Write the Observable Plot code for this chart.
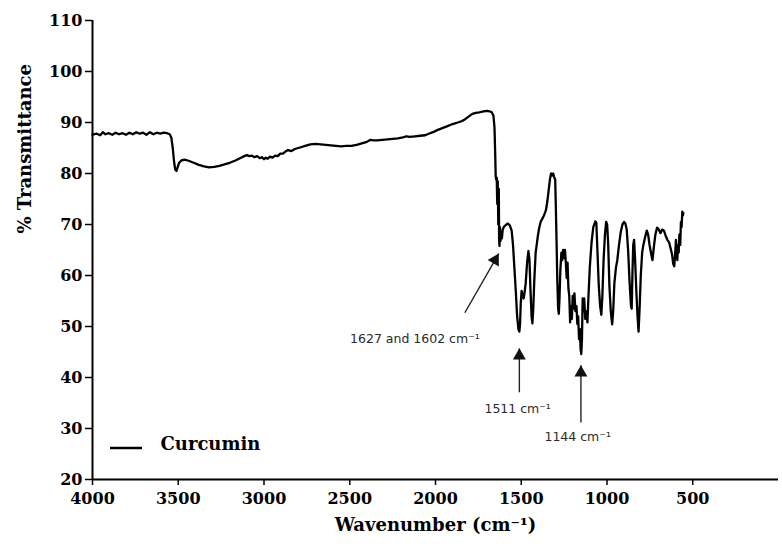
<!DOCTYPE html>
<html><head><meta charset="utf-8">
<script src="https://cdn.jsdelivr.net/npm/d3@7"></script>
<script src="https://cdn.jsdelivr.net/npm/@observablehq/plot@0.6"></script>
<style>body{margin:0;background:#fff}#chart{width:782px;height:555px}</style>
</head><body><div id="chart"></div>
<script>
const wavenumber = [4000,3975,3955,3940,3925,3905,3885,3865,3845,3825,3805,3785,3765,3745,3725,3705,3685,3665,3645,3625,3605,3585,3565,3550,3540,3532,3525,3518,3510,3503,3495,3480,3460,3440,3410,3380,3350,3320,3290,3260,3230,3200,3170,3140,3115,3100,3085,3070,3055,3040,3025,3012,3000,2990,2978,2965,2950,2935,2920,2905,2890,2875,2860,2840,2820,2790,2760,2730,2700,2670,2640,2610,2580,2550,2520,2490,2460,2430,2400,2380,2360,2340,2310,2280,2250,2220,2190,2170,2150,2120,2090,2060,2040,2015,1990,1960,1930,1900,1870,1845,1825,1805,1785,1765,1745,1720,1700,1685,1672,1662,1656,1652,1649,1646,1643,1640,1637,1634,1631,1629,1627,1624,1621,1617,1613,1608,1600,1590,1578,1566,1556,1548,1540,1532,1524,1516,1511,1507,1503,1498,1492,1486,1480,1474,1466,1458,1452,1446,1440,1435,1430,1424,1416,1410,1403,1395,1386,1376,1366,1356,1348,1340,1332,1326,1320,1314,1308,1302,1298,1294,1290,1285,1281,1277,1272,1266,1261,1256,1250,1245,1240,1235,1230,1225,1220,1215,1210,1205,1200,1195,1190,1184,1178,1173,1168,1163,1158,1154,1150,1146,1142,1138,1133,1127,1121,1114,1108,1100,1090,1080,1068,1062,1056,1048,1040,1033,1027,1020,1012,1005,999,993,986,978,970,964,957,948,940,930,920,910,900,893,885,877,868,860,856,852,847,842,836,829,822,816,810,803,795,788,778,768,760,752,744,735,727,718,708,698,688,678,668,658,648,638,628,620,614,608,603,598,594,590,586,582,578,573,569,565,561,557,555];
const transmittance = [87.6,87.8,87.5,88.1,87.7,87.9,87.6,88.0,87.7,87.9,87.6,88.0,87.7,88.1,87.8,88.0,87.6,88.1,87.7,88.0,87.8,88.0,87.9,87.7,87.0,85.0,82.5,80.8,80.5,81.3,82.1,82.6,82.7,82.5,82.1,81.7,81.4,81.2,81.3,81.5,81.8,82.1,82.5,83.0,83.4,83.6,83.4,83.5,83.2,83.4,83.0,83.2,82.8,83.1,82.9,83.3,83.1,83.5,83.4,83.9,83.9,84.3,84.6,84.4,84.8,85.1,85.4,85.7,85.8,85.7,85.6,85.5,85.4,85.3,85.4,85.4,85.6,85.9,86.2,86.6,86.5,86.5,86.6,86.7,86.8,86.9,87.1,87.3,87.2,87.3,87.4,87.5,87.8,88.1,88.5,88.9,89.3,89.7,90.0,90.3,90.7,91.2,91.7,91.9,92.0,92.2,92.3,92.2,92.0,91.3,89.0,84.0,79.5,78.8,79.2,74.0,78.5,70.0,77.0,67.0,65.8,69.5,66.8,68.5,67.3,69.0,69.6,69.9,70.2,69.8,68.8,66.0,61.5,57.0,52.0,49.4,49.0,50.5,54.5,57.0,56.2,55.5,56.8,58.5,62.5,64.8,63.0,57.0,52.0,50.6,53.5,59.0,64.5,66.0,67.8,69.4,70.6,71.2,71.9,72.8,74.5,76.8,79.0,80.0,79.6,80.0,79.3,78.8,73.0,66.5,59.5,53.5,52.5,55.5,61.0,64.5,63.0,65.0,63.4,65.0,62.5,59.5,62.5,57.5,56.0,50.8,54.0,51.5,56.0,53.5,56.5,53.0,54.0,50.5,52.0,47.5,49.5,45.5,44.6,47.5,55.5,53.0,55.5,51.5,53.0,50.8,56.0,61.8,66.5,69.5,70.6,70.3,65.0,58.0,54.0,52.3,56.0,63.0,68.0,70.5,70.0,66.0,58.0,53.0,50.4,53.0,58.5,61.5,63.0,66.0,68.5,70.0,70.5,70.2,69.0,65.0,58.5,54.0,53.5,60.0,66.0,67.0,63.0,57.0,52.0,49.0,53.5,60.0,64.5,66.0,67.5,68.8,68.0,66.0,64.5,63.0,65.5,68.0,69.4,69.0,68.3,69.0,68.8,67.8,67.0,66.5,65.2,64.0,62.3,61.8,64.0,67.0,65.0,63.0,66.0,64.5,68.0,66.0,70.5,69.5,72.5,71.8,72.3];
const xTicks = [4000,3500,3000,2500,2000,1500,1000,500];
const yTicks = [20,30,40,50,60,70,80,90,100,110];
const seriesName = "Curcumin";
const xLabel = "Wavenumber (cm⁻¹)";
const yLabel = "% Transmittance";
const annotationText = ["1627 and 1602 cm⁻¹", "1511 cm⁻¹", "1144 cm⁻¹"];
const annotationTextWn = [2120, 1521, 1171];
const annotationTextT = [47.6, 33.9, 28.4];
const arrowTailWn = [1829, 1511, 1152];
const arrowTailT = [52.7, 37.1, 31.2];
const arrowTipWn = [1631, 1511, 1152];
const arrowTipT = [64.3, 45.7, 42.4];

const W = 782, H = 555, ML = 92, MR = 4, MT = 20, MB = 76;
const xs = d3.scaleLinear([4000, 0], [ML, W - MR]);
const ys = d3.scaleLinear([20, 110], [H - MB, MT]);

const spectrum = wavenumber.map((w, i) => ({w, t: transmittance[i]}));
const annotations = annotationText.map((label, i) => {
  const x1 = xs(arrowTailWn[i]), y1 = ys(arrowTailT[i]);
  const x2 = xs(arrowTipWn[i]), y2 = ys(arrowTipT[i]);
  const L = Math.hypot(x2 - x1, y2 - y1), ux = (x2 - x1) / L, uy = (y2 - y1) / L;
  return {
    label, wn: annotationTextWn[i], t: annotationTextT[i],
    tailWn: arrowTailWn[i], tailT: arrowTailT[i],
    tipWn: arrowTipWn[i], tipT: arrowTipT[i],
    headWn: xs.invert(x2 - 7.4 * ux), headT: ys.invert(y2 - 7.4 * uy),
    angle: Math.atan2(ux, -uy) * 180 / Math.PI
  };
});

const serif = "'DejaVu Serif', serif";
const plot = Plot.plot({
  width: W, height: H,
  marginLeft: ML, marginRight: MR, marginTop: MT, marginBottom: MB,
  style: {background: "#fff", color: "#000", fontFamily: serif, fontWeight: "bold", fontSize: "16px"},
  x: {domain: [4000, 0]},
  y: {domain: [20, 110]},
  marks: [
    Plot.axisX({ticks: xTicks, tickFormat: d => String(d), tickSize: 6, tickPadding: 7, label: null, fontSize: 16, fontWeight: "bold", fontFamily: serif, strokeWidth: 1.5}),
    Plot.axisY({ticks: yTicks, tickFormat: d => String(d), tickSize: 7, tickPadding: 3, label: null, fontSize: 16, fontWeight: "bold", fontFamily: serif, strokeWidth: 1.5}),
    Plot.ruleY([20], {stroke: "#000", strokeWidth: 2}),
    Plot.ruleX([4000], {stroke: "#000", strokeWidth: 2}),
    Plot.line(spectrum, {x: "w", y: "t", stroke: "#000", strokeWidth: 2.3, strokeLinejoin: "round"}),
    Plot.link(annotations, {x1: "tailWn", y1: "tailT", x2: "tipWn", y2: "tipT", stroke: "#222", strokeWidth: 1.4}),
    Plot.dot(annotations, {x: "headWn", y: "headT", symbol: "triangle", r: 4.8, fill: "#111", rotate: "angle"}),
    Plot.text(annotations, {x: "wn", y: "t", text: "label", fontFamily: "'DejaVu Sans', sans-serif", fontWeight: "normal", fontSize: 12.5, fill: "#2a2a2a"}),
    Plot.text([yLabel], {text: d => d, frameAnchor: "left", dx: -67, dy: -16.5, rotate: -90, fontSize: 18, fontWeight: "bold", fontFamily: serif}),
    Plot.text([xLabel], {text: d => d, frameAnchor: "bottom", dy: 51, fontSize: 18, fontWeight: "bold", fontFamily: serif}),
    Plot.text([seriesName], {text: d => d, frameAnchor: "bottom-left", dx: 68, dy: -30, textAnchor: "start", fontSize: 18, fontWeight: "bold", fontFamily: serif})
  ]
});
d3.select(plot).append("line")
  .attr("x1", 110).attr("x2", 142).attr("y1", 448).attr("y2", 448)
  .attr("stroke", "#000").attr("stroke-width", 2.5);
document.getElementById("chart").appendChild(plot);
</script>
</body></html>
